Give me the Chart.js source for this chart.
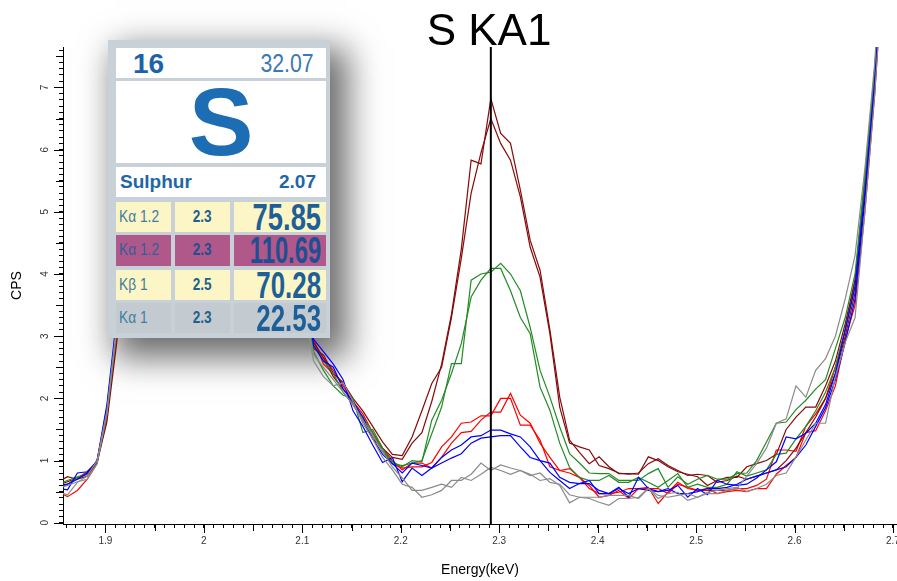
<!DOCTYPE html>
<html><head><meta charset="utf-8">
<script src="https://cdn.jsdelivr.net/npm/chart.js@4"></script>
<style>
html,body{margin:0;padding:0;background:#fff;}
#wrap{position:relative;width:897px;height:581px;overflow:hidden;background:#fff;}
#c{position:absolute;left:0;top:0;z-index:2;}
#title{position:absolute;left:389px;width:200px;top:6px;text-align:center;z-index:4;font-family:"Liberation Sans",Arial,sans-serif;font-size:44px;line-height:48px;color:#000;}
#shadow{position:absolute;left:108px;top:40px;width:222px;height:298px;z-index:1;background:#fff;box-shadow:12px 14px 32px 6px rgba(0,0,0,0.58);}
#card{position:absolute;left:108px;top:40px;width:222px;height:298px;z-index:3;background:#c8d1d8;font-family:"Liberation Sans",Arial,sans-serif;color:#1f66a8;}
#card div{position:absolute;box-sizing:border-box;white-space:nowrap;}
#card span{display:inline-block;}
.w{background:#fff;}
.y{background:#fcf5c6;}
.m{background:#b0588a;}
.g{background:#c3cbd1;}
.lbl{font-size:16px;color:#3f7d9e;padding-left:3px;line-height:30px;}
.lbl span{transform:scaleX(0.86);transform-origin:left center;}
.mid{font-size:16px;font-weight:bold;text-align:center;line-height:30px;color:#215f8c;}
.mid span{transform:scaleX(0.85);transform-origin:center center;}
.num{font-size:36px;font-weight:bold;line-height:31px;color:#1d5f98;overflow:visible;}
#card .num span{position:absolute;right:5px;top:0;transform-origin:right center;}
</style></head>
<body>
<div id="wrap">
<div id="shadow"></div>
<canvas id="c" width="897" height="581"></canvas>
<div id="title">S KA1</div>
<div id="card">
 <div class="w" style="left:8px;top:8px;width:210px;height:30px;">
   <div style="left:17px;top:0;font-size:28px;font-weight:bold;line-height:31px;color:#1b63a6;">16</div>
   <div style="right:12px;top:0;font-size:25px;line-height:31px;color:#3a78b6;"><span style="transform:scaleX(0.85);transform-origin:right center;">32.07</span></div>
 </div>
 <div class="w" style="left:8px;top:41px;width:210px;height:82px;">
   <div style="left:0;width:210px;top:-12px;text-align:center;font-size:97px;font-weight:bold;line-height:106px;color:#1c6db4;">S</div>
 </div>
 <div class="w" style="left:8px;top:127px;width:210px;height:30px;">
   <div style="left:4px;top:0;font-size:19px;font-weight:bold;line-height:30px;color:#2266a6;">Sulphur</div>
   <div style="right:10px;top:0;font-size:19px;font-weight:bold;line-height:30px;color:#2266a6;">2.07</div>
 </div>
 <div class="y lbl" style="left:8px;top:162px;width:55px;height:30px;"><span>Kα 1.2</span></div>
 <div class="y mid" style="left:67px;top:162px;width:55px;height:30px;"><span>2.3</span></div>
 <div class="y num" style="left:126px;top:162px;width:92px;height:30px;"><span style="transform:scaleX(0.76);">75.85</span></div>
 <div class="m lbl" style="left:8px;top:195px;width:55px;height:31px;color:#2f5f9a;"><span>Kα 1.2</span></div>
 <div class="m mid" style="left:67px;top:195px;width:55px;height:31px;color:#1f4f8c;"><span>2.3</span></div>
 <div class="m num" style="left:126px;top:195px;width:92px;height:31px;color:#1e4f92;"><span style="transform:scaleX(0.66);">110.69</span></div>
 <div class="y lbl" style="left:8px;top:230px;width:55px;height:30px;"><span>Kβ 1</span></div>
 <div class="y mid" style="left:67px;top:230px;width:55px;height:30px;"><span>2.5</span></div>
 <div class="y num" style="left:126px;top:230px;width:92px;height:30px;"><span style="transform:scaleX(0.72);">70.28</span></div>
 <div class="g lbl" style="left:8px;top:263px;width:55px;height:30px;"><span>Kα 1</span></div>
 <div class="g mid" style="left:67px;top:263px;width:55px;height:30px;"><span>2.3</span></div>
 <div class="g num" style="left:126px;top:263px;width:92px;height:30px;"><span style="transform:scaleX(0.72);">22.53</span></div>
</div>
</div>
<script>
// Energy channels (keV)
const energies = [1.8515,1.8615,1.8715,1.8815,1.8915,1.9015,1.9115,1.9215,1.9315,1.9415,1.9515,1.9615,1.9715,1.9815,1.9915,2.0015,2.0115,2.0215,2.0315,2.0415,2.0515,2.0615,2.0715,2.0815,2.0915,2.1015,2.1115,2.1215,2.1315,2.1415,2.1515,2.1615,2.1715,2.1815,2.1915,2.2015,2.2115,2.2215,2.2315,2.2415,2.2515,2.2615,2.2715,2.2815,2.2915,2.3015,2.3115,2.3215,2.3315,2.3415,2.3515,2.3615,2.3715,2.3815,2.3915,2.4015,2.4115,2.4215,2.4315,2.4415,2.4515,2.4615,2.4715,2.4815,2.4915,2.5015,2.5115,2.5215,2.5315,2.5415,2.5515,2.5615,2.5715,2.5815,2.5915,2.6015,2.6115,2.6215,2.6315,2.6415,2.6515,2.6615,2.6715,2.6815,2.6915,2.7015,2.7115];

// CPS series (two spectra per colour)
const maroonA = [0.65,0.74,0.70,0.75,0.97,1.62,2.90, 4.6,6.8,9.2,11.5,13.5,15.5,17,18,18,17,15.5,14,12,10.5,9,7.5,6,4.7,3.6, 2.90,2.65,2.35,2.15,1.95,1.65,1.35,1.20,1.05, 1.02,1.28,1.45,1.95,2.55,3.35,4.40,5.83,5.77,6.82,6.26,6.10,5.35,4.54,4.06,3.10,2.02,1.33,1.13,0.95, 1.06,0.90,0.79,0.79,0.78,1.06,1.00,0.90,0.82,0.78,0.74,0.60,0.68,0.73,0.73, 0.90,0.95,1.00,1.10,1.50,1.70,1.86,1.86,2.20,2.60,3.20,3.90,5.50,7.30,9.80,12.6,16];
const maroonB = [0.60,0.66,0.72,0.78,1.00,1.72,3.00, 4.8,7.0,9.5,11.8,13.8,15.8,17.2,18.2,18.1,17.1,15.6,14.1,12.2,10.6,9.1,7.6,6.1,4.8,3.8, 2.80,2.70,2.40,2.25,2.00,1.80,1.55,1.30,1.10, 1.08,1.38,1.80,2.24,2.50,3.30,4.25,5.30,5.95,6.50,6.10,5.83,5.24,4.43,3.95,3.04,1.86,1.28,1.22,1.17, 0.92,0.87,0.80,0.78,0.80,0.95,1.03,0.92,0.84,0.76,0.78,0.76,0.65,0.68,0.75, 0.70,0.75,0.80,0.85,1.00,1.20,1.45,1.70,2.00,2.40,3.00,3.70,5.30,7.10,9.60,12.3,15.8];
const greenA = [0.62,0.68,0.74,0.78,1.00,1.80,3.20, 5.0,7.3,9.8,12,14,16,17.5,18.5,18.4,17.4,16,14.4,12.5,10.8,9.2,7.7,6.2,4.9,3.7, 2.75,2.45,2.20,2.05,2.00,1.45,1.50,1.20,0.95, 0.92,0.96,1.00,1.43,1.86,2.56,2.56,3.90,4.00,4.03,4.17,4.00,3.73,3.14,2.45,2.02,1.54,1.11,0.96,0.80, 0.79,0.79,0.68,0.68,0.68,0.79,0.87,0.57,0.74,0.62,0.70,0.76,0.70,0.70,0.79, 0.80,1.00,1.30,1.60,1.62,1.82,1.97,2.15,2.30,2.80,3.30,4.00,5.60,7.30,9.80,12.5,16];
const greenB = [0.55,0.62,0.72,0.80,0.98,1.75,3.10, 4.7,6.9,9.3,11.6,13.6,15.6,17.1,18.1,18,17,15.5,14,12.1,10.4,8.9,7.4,5.9,4.6,3.5, 2.85,2.60,2.40,2.10,1.90,1.70,1.45,1.15,0.98, 0.90,1.00,0.98,1.65,1.97,2.40,2.88,3.63,3.90,4.09,4.09,3.73,3.30,3.04,2.18,1.81,1.28,0.89,0.73,0.68, 0.68,0.76,0.65,0.65,0.73,0.65,0.57,0.68,0.79,0.57,0.62,0.57,0.57,0.62,0.82, 0.75,0.80,0.85,1.10,1.12,1.35,1.55,1.80,2.10,2.50,3.10,3.80,5.40,7.20,9.60,12.3,15.8];
const redA = [0.50,0.42,0.52,0.70,0.95,1.70,3.10, 4.9,7.2,9.6,11.9,13.9,15.9,17.3,18.3,18.2,17.2,15.8,14.2,12.3,10.7,9.2,7.7,6.2,4.9,3.8, 2.90,2.65,2.45,2.20,1.95,1.75,1.45,1.20,1.00, 0.85,0.96,0.96,0.88,1.05,1.28,1.45,1.47,1.65,1.78,1.78,2.08,1.73,1.60,1.28,1.05,0.84,0.87,0.73,0.60, 0.41,0.44,0.52,0.39,0.55,0.57,0.31,0.49,0.65,0.55,0.52,0.55,0.47,0.50,0.52, 0.50,0.55,0.55,0.78,0.92,1.05,1.45,1.48,1.80,2.20,2.95,3.50,5.00,6.90,9.30,12.0,15.5];
const redB = [0.55,0.62,0.72,0.82,0.98,1.75,3.20, 5.0,7.3,9.7,12,14,16,17.4,18.4,18.3,17.3,15.9,14.3,12.4,10.8,9.3,7.8,6.3,5.0,3.9, 2.95,2.55,2.40,2.25,1.90,1.65,1.40,1.15,0.95, 0.88,0.90,0.90,0.97,1.22,1.38,1.60,1.62,1.72,1.72,2.00,2.00,1.57,1.57,1.33,0.90,0.84,0.80,0.73,0.55, 0.47,0.47,0.49,0.55,0.55,0.55,0.55,0.47,0.62,0.57,0.52,0.52,0.52,0.52,0.55, 0.55,0.60,0.70,1.17,1.17,1.15,1.55,1.75,2.00,2.50,3.10,3.90,5.40,7.20,9.60,12.4,16];
const blueA = [0.55,0.53,0.80,0.82,0.98,1.85,3.20, 5.1,7.4,9.8,12.1,14.1,16.1,17.5,18.5,18.4,17.4,16,14.4,12.5,10.9,9.4,7.9,6.4,5.0,3.8, 2.95,2.75,2.55,2.30,1.80,1.55,1.25,0.97,1.05, 0.66,0.88,0.76,0.88,1.05,1.17,1.25,1.38,1.40,1.49,1.49,1.43,1.38,1.22,1.00,0.81,0.68,0.55,0.63,0.63, 0.52,0.47,0.57,0.41,0.73,0.55,0.50,0.52,0.60,0.41,0.55,0.45,0.68,0.62,0.60, 0.62,0.72,0.85,0.98,1.38,1.35,1.44,1.60,1.90,2.40,3.10,3.80,5.30,7.10,9.50,12.2,15.8];
const blueB = [0.60,0.62,0.70,0.80,1.00,1.90,3.30, 5.2,7.5,9.9,12.2,14.2,16.2,17.6,18.6,18.5,17.5,16.1,14.5,12.6,11,9.5,8,6.5,5.1,3.9, 2.85,2.60,2.50,2.15,1.95,1.70,1.35,1.10,0.95, 0.80,0.96,0.92,0.88,0.96,1.04,1.11,1.28,1.36,1.38,1.40,1.40,1.22,1.05,1.00,0.96,0.73,0.65,0.63,0.68, 0.47,0.47,0.55,0.47,0.55,0.52,0.50,0.55,0.47,0.47,0.50,0.55,0.55,0.57,0.62, 0.70,0.75,0.80,0.85,0.90,1.05,1.25,1.55,1.85,2.30,2.90,3.60,5.20,7.00,9.40,12.1,15.6];
const grayA = [0.55,0.60,0.66,0.70,0.95,1.75,3.10, 4.8,7.1,9.5,11.8,13.8,15.8,17.2,18.2,18.1,17.1,15.6,14.1,12.2,10.5,9.0,7.5,6.0,4.6,3.4, 2.60,2.35,2.20,2.25,1.95,1.60,1.35,1.05,0.85, 0.62,0.57,0.41,0.45,0.52,0.68,0.68,0.78,0.96,0.84,0.93,0.88,0.84,0.78,0.68,0.71,0.60,0.32,0.41,0.39, 0.33,0.28,0.39,0.39,0.41,0.55,0.39,0.47,0.49,0.36,0.41,0.47,0.47,0.52,0.55, 0.75,0.95,1.20,1.60,1.67,2.20,2.02,2.45,2.64,3.00,3.60,4.30,5.70,7.40,10.0,13.0,16.5];
const grayB = [0.50,0.45,0.65,0.75,1.00,1.80,3.20, 4.9,7.2,9.6,11.9,13.9,15.9,17.3,18.3,18.2,17.2,15.7,14.2,12.3,10.6,9.1,7.6,6.1,4.7,3.5, 2.70,2.50,2.30,2.10,1.90,1.65,1.40,1.15,0.90, 0.72,0.52,0.52,0.57,0.62,0.57,0.73,0.68,0.78,0.89,0.84,0.78,0.84,0.76,0.80,0.65,0.62,0.45,0.41,0.41, 0.41,0.44,0.44,0.44,0.39,0.55,0.44,0.41,0.44,0.47,0.41,0.49,0.52,0.55,0.57, 0.50,0.55,0.62,0.76,0.80,1.06,1.33,1.60,1.60,2.34,2.90,3.30,5.00,6.90,9.30,12.0,15.5];

// Marker line (S KA1 position) and axis ranges
const markerEnergy = 2.2915;
const xRange = [1.8569, 2.7041];
const yRange = [-0.02, 7.65];

const seriesList = [
  {name:'grayA', data:grayA, color:'#8a8a8a'},
  {name:'grayB', data:grayB, color:'#8a8a8a'},
  {name:'blueA', data:blueA, color:'#0000ff'},
  {name:'blueB', data:blueB, color:'#0000ff'},
  {name:'greenA', data:greenA, color:'#238b23'},
  {name:'greenB', data:greenB, color:'#238b23'},
  {name:'maroonA', data:maroonA, color:'#850a0a'},
  {name:'maroonB', data:maroonB, color:'#850a0a'},
  {name:'redA', data:redA, color:'#ff0000'},
  {name:'redB', data:redB, color:'#ff0000'}
];

const datasets = seriesList.map((s, k) => ({
  label: s.name,
  data: energies.map((e, i) => ({x: e, y: s.data[i]})),
  borderColor: s.color,
  borderWidth: 1.2,
  pointRadius: 0,
  tension: 0,
  order: 1 + k
}));
datasets.push({
  label: 'marker',
  data: [{x: markerEnergy, y: yRange[0]}, {x: markerEnergy, y: yRange[1]}],
  borderColor: '#000',
  borderWidth: 2,
  pointRadius: 0,
  order: 0
});

const isMult = (v, step) => Math.abs(v / step - Math.round(v / step)) < 1e-6;

const longTicks = {
  id: 'longTicks',
  afterDraw(chart) {
    const ctx = chart.ctx;
    const xs = chart.scales.x, ys = chart.scales.y;
    ctx.save();
    ctx.strokeStyle = '#000';
    ctx.lineWidth = 1;
    ctx.beginPath();
    xs.ticks.forEach(t => {
      let len = 0;
      if (isMult(t.value, 0.1)) len = 9; else if (isMult(t.value, 0.05)) len = 7;
      if (len) {
        const px = Math.round(xs.getPixelForValue(t.value)) + 0.5;
        ctx.moveTo(px, xs.top);
        ctx.lineTo(px, xs.top + len);
      }
    });
    ys.ticks.forEach(t => {
      let len = 0;
      if (isMult(t.value, 1)) len = 9; else if (isMult(t.value, 0.5)) len = 7;
      if (len) {
        const py = Math.round(ys.getPixelForValue(t.value)) + 0.5;
        ctx.moveTo(ys.right, py);
        ctx.lineTo(ys.right - len, py);
      }
    });
    ctx.stroke();
    ctx.restore();
  }
};

new Chart(document.getElementById('c'), {
  type: 'line',
  data: { datasets },
  options: {
    responsive: false,
    animation: false,
    devicePixelRatio: 1,
    layout: { padding: { top: 47, right: 0, left: 0, bottom: 0 } },
    plugins: { legend: { display: false }, tooltip: { enabled: false }, title: { display: false } },
    scales: {
      x: {
        type: 'linear',
        min: xRange[0], max: xRange[1],
        grid: { drawOnChartArea: false, drawTicks: true, tickLength: 4, tickColor: '#000', color: '#000' },
        border: { display: true, color: '#000', width: 1 },
        ticks: {
          stepSize: 0.01, includeBounds: false, autoSkip: false, maxRotation: 0, minRotation: 0,
          padding: 7, color: '#333',
          font: { family: 'Liberation Sans, Arial, sans-serif', size: 10 },
          callback: v => isMult(v, 0.1) ? String(Math.round(v * 10) / 10) : ''
        },
        title: { display: true, text: 'Energy(keV)', color: '#000', font: { family: 'Liberation Sans, Arial, sans-serif', size: 14 }, padding: { top: 0, bottom: 2 } },
        afterFit: s => { s.height = 57; s.paddingLeft = 0; s.paddingRight = 0; }
      },
      y: {
        min: yRange[0], max: yRange[1],
        grid: { drawOnChartArea: false, drawTicks: true, tickLength: 4, tickColor: '#000', color: '#000' },
        border: { display: true, color: '#000', width: 1 },
        ticks: {
          stepSize: 0.1, includeBounds: false, autoSkip: false, minRotation: 90, maxRotation: 90,
          crossAlign: 'center', padding: 11, color: '#333',
          font: { family: 'Liberation Sans, Arial, sans-serif', size: 10 },
          callback: v => isMult(v, 1) ? String(Math.round(v)) : ''
        },
        title: { display: true, text: 'CPS', color: '#000', font: { family: 'Liberation Sans, Arial, sans-serif', size: 14 }, padding: { top: 9, bottom: 0 } },
        afterFit: s => { s.width = 63; s.paddingTop = 0; s.paddingBottom = 0; }
      }
    }
  },
  plugins: [longTicks]
});
</script>
</body></html>
